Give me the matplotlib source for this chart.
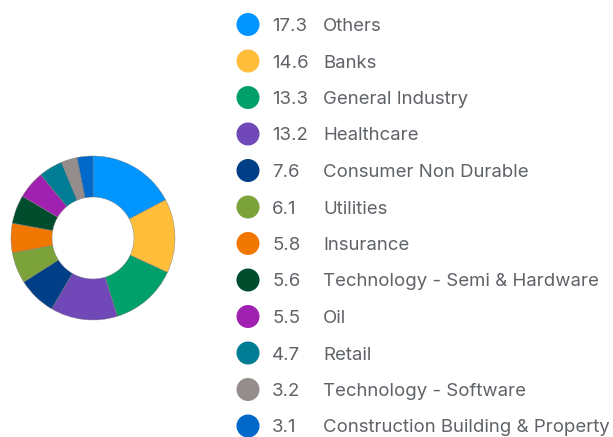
import matplotlib
matplotlib.use("Agg")
import matplotlib.pyplot as plt
from matplotlib.patches import Circle

sectors = ["Others", "Banks", "General Industry", "Healthcare", "Consumer Non Durable",
           "Utilities", "Insurance", "Technology - Semi & Hardware", "Oil", "Retail",
           "Technology - Software", "Construction Building & Property"]
weights = [17.3, 14.6, 13.3, 13.2, 7.6, 6.1, 5.8, 5.6, 5.5, 4.7, 3.2, 3.1]
colors = ["#0095FF", "#FFBE3A", "#00A06A", "#7048B8", "#003F87", "#7BA33A",
          "#F07800", "#004D2E", "#A020B0", "#007C94", "#958C8C", "#0068C8"]

W, H = 613, 437
fig = plt.figure(figsize=(W / 100, H / 100), dpi=100)
fig.patch.set_facecolor("white")

# donut, center ~ (93, 238) px, radius ~82 px
cx, cy, r = 93, 238, 82
ax = fig.add_axes([(cx - r) / W, (H - cy - r) / H, 2 * r / W, 2 * r / H])
ax.pie(weights, colors=colors, startangle=90, counterclock=False, radius=1,
       wedgeprops=dict(width=0.5, edgecolor="#7a7a7a", linewidth=0.3))
ax.set_xlim(-1, 1)
ax.set_ylim(-1, 1)
ax.set_aspect("equal")
ax.axis("off")

# overlay in pixel coords for the legend
lg = fig.add_axes([0, 0, 1, 1])
lg.set_xlim(0, W)
lg.set_ylim(H, 0)
lg.axis("off")

text_color = "#5f6368"
font = ["Inter", "DejaVu Sans"]
fs = 13.4
y0, dy = 24.5, 36.5
for i, (name, w, c) in enumerate(zip(sectors, weights, colors)):
    y = y0 + i * dy
    lg.add_patch(Circle((248, y), 11.5, color=c, lw=0))
    lg.text(272, y + 6.5, f"{w:.1f}", va="baseline", ha="left", fontsize=fs,
            color=text_color, family=font)
    lg.text(323, y + 6.5, name, va="baseline", ha="left", fontsize=fs,
            color=text_color, family=font)

# title cut off at top edge, as in the source
lg.text(91, -6, "(%)", va="center", ha="center", fontsize=fs,
        color=text_color, family=font)

fig.savefig("out.png", dpi=100, facecolor="white")
